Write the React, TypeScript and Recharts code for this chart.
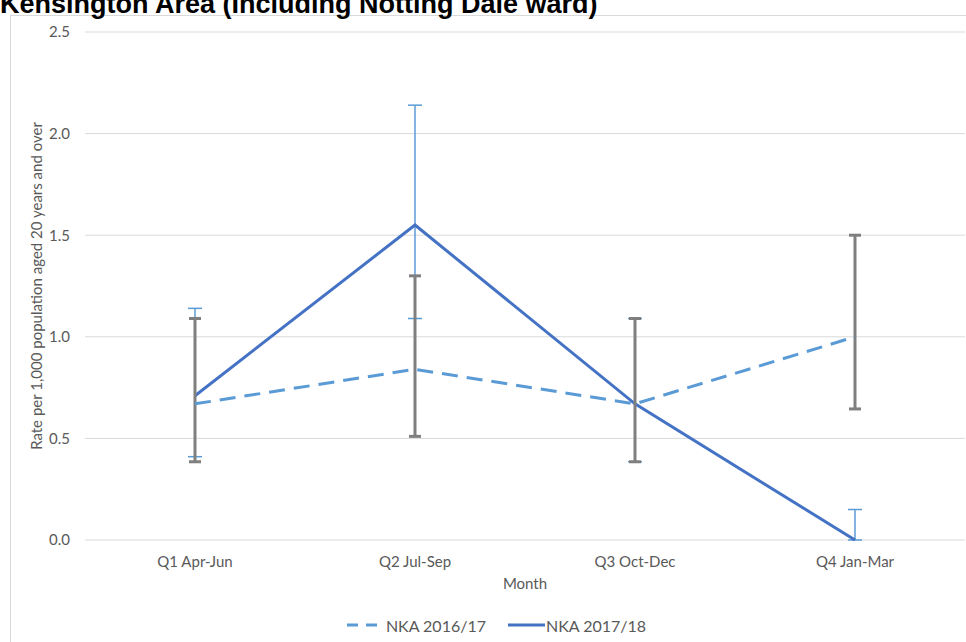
import React from 'react';
import { LineChart, Line, XAxis, YAxis, CartesianGrid, ErrorBar, Legend } from 'recharts';

const quarters = ['Q1 Apr-Jun', 'Q2 Jul-Sep', 'Q3 Oct-Dec', 'Q4 Jan-Mar'];
const rate1617 = [0.67, 0.84, 0.67, 1.0];
const low1617 = [0.385, 0.51, 0.385, 0.645];
const high1617 = [1.09, 1.30, 1.09, 1.50];
const rate1718 = [0.71, 1.55, 0.67, 0.0];
const low1718 = [0.41, 1.09, 0.385, 0.0];
const high1718 = [1.14, 2.14, 1.09, 0.15];
const yTicks = [0, 0.5, 1, 1.5, 2, 2.5];
const seriesNames = ['NKA 2016/17', 'NKA 2017/18'];
const chartTitle = 'Kensington Area (Including Notting Dale ward)';
const xTitle = 'Month';
const yTitle = 'Rate per 1,000 population aged 20 years and over';

const data = quarters.map((q, i) => ({
  quarter: q,
  a: rate1617[i],
  aErr: [rate1617[i] - low1617[i], high1617[i] - rate1617[i]],
  b: rate1718[i],
  bErr: [rate1718[i] - low1718[i], high1718[i] - rate1718[i]],
}));

const FONT = 'Lato, "Open Sans", sans-serif';
const TEXT = '#595959';

const renderLegend = () => (
  <div style={{ height: 24, display: 'flex', justifyContent: 'center', alignItems: 'center', paddingLeft: 18, fontFamily: FONT, fontSize: 16, color: TEXT }}>
    <svg width={36} height={10} style={{ marginRight: 3 }}>
      <line x1={0} y1={5} x2={36} y2={5} stroke="#5B9BD5" strokeWidth={3} strokeDasharray="11 8" />
    </svg>
    <span style={{ marginRight: 22 }}>{seriesNames[0]}</span>
    <svg width={37} height={10} style={{ marginRight: 1 }}>
      <line x1={0} y1={5} x2={37} y2={5} stroke="#4472C4" strokeWidth={3} />
    </svg>
    <span>{seriesNames[1]}</span>
  </div>
);

export default function App() {
  return (
    <div style={{ position: 'absolute', left: 0, top: 0, width: 966, height: 642, overflow: 'hidden', background: '#fff' }}>
      <div style={{ position: 'absolute', left: 10, top: 15, width: 980, height: 700, borderLeft: '1px solid #D9D9D9', borderTop: '1px solid #D9D9D9' }} />
      <div style={{ position: 'absolute', left: 0, top: -9, fontFamily: 'Arial, "Liberation Sans", sans-serif', fontWeight: 'bold', fontSize: 27, lineHeight: '27px', color: '#000', whiteSpace: 'nowrap' }}>
        {chartTitle}
      </div>
      <div style={{ position: 'absolute', left: 0, top: 0 }}>
        <LineChart width={966} height={642} data={data} margin={{ top: 32, right: 1, bottom: 5, left: 10 }}>
          <CartesianGrid vertical={false} stroke="#D9D9D9" strokeWidth={1} />
          <XAxis
            dataKey="quarter"
            axisLine={false}
            tickLine={false}
            tickMargin={10}
            height={73}
            padding={{ left: 110, right: 110 }}
            tick={{ fill: TEXT, fontSize: 15, fontFamily: FONT }}
            label={{ value: xTitle, position: 'insideTop', offset: 38, fill: TEXT, fontSize: 15, fontFamily: FONT }}
          />
          <YAxis
            domain={[0, 2.5]}
            ticks={yTicks}
            axisLine={false}
            tickLine={false}
            tickMargin={9}
            width={75}
            tickFormatter={(v: number) => v.toFixed(1)}
            tick={{ fill: TEXT, fontSize: 15, fontFamily: FONT }}
            label={{ value: yTitle, angle: -90, position: 'insideLeft', offset: 27, fill: TEXT, fontSize: 15, fontFamily: FONT, style: { textAnchor: 'middle' } }}
          />
          <Legend verticalAlign="bottom" content={renderLegend} />
          <Line type="linear" dataKey="b" name={seriesNames[1]} stroke="#4472C4" strokeWidth={3} dot={false} isAnimationActive={false}>
            <ErrorBar dataKey="bErr" direction="y" width={7} stroke="#5B9BD5" strokeWidth={1.5} isAnimationActive={false} />
          </Line>
          <Line type="linear" dataKey="a" name={seriesNames[0]} stroke="#5B9BD5" strokeWidth={3} strokeDasharray="16 9" dot={false} isAnimationActive={false}>
            <ErrorBar dataKey="aErr" direction="y" width={6} stroke="#7F7F7F" strokeWidth={3} isAnimationActive={false} />
          </Line>
        </LineChart>
      </div>
    </div>
  );
}
